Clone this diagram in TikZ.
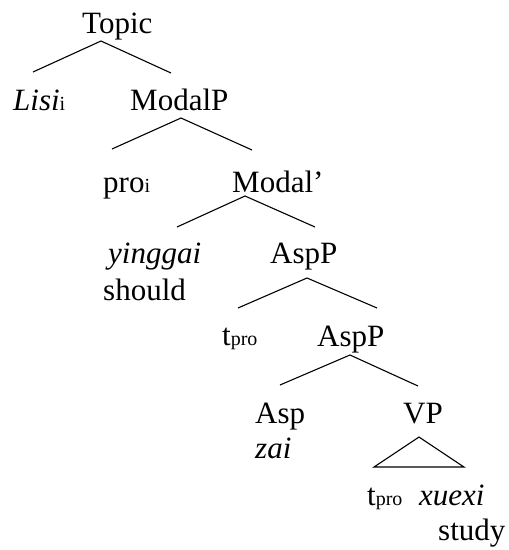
\documentclass[tikz,border=0pt]{standalone}
\usepackage{fontspec}
\setmainfont{Liberation Serif}
\newcommand{\subtx}[1]{{\fontsize{20}{24}\selectfont #1}}
\tikzset{
  lbl/.style={anchor=base west, inner sep=0pt, font=\fontsize{31}{36}\selectfont},
  branch/.style={line width=1.1pt, line join=miter}
}
\begin{document}
\begin{tikzpicture}[x=1pt,y=-1pt]
\useasboundingbox (0,0) rectangle (509,550);
% labels
\node[lbl] (topic) at (82,33) {Topic};
\node[lbl] (lisi) at (13,110) {\textit{Lisi}\subtx{i}};
\node[lbl] (modalp) at (130,110) {ModalP};
\node[lbl] (pro) at (103,192) {pro\subtx{i}};
\node[lbl] (modalbar) at (232,192) {Modal’};
\node[lbl] (yinggai) at (108,263) {\textit{yinggai}};
\node[lbl] (should) at (103,300) {should};
\node[lbl] (aspp) at (270,263) {AspP};
\node[lbl] (tpro) at (222,345) {t\subtx{pro}};
\node[lbl] (aspptwo) at (317,346) {AspP};
\node[lbl] (asp) at (255,423) {Asp};
\node[lbl] (zai) at (255,458) {\textit{zai}};
\node[lbl] (vp) at (403,423) {VP};
\node[lbl] (tprotwo) at (367,505) {t\subtx{pro}};
\node[lbl] (xuexi) at (419,505) {\textit{xuexi}};
\node[lbl] (study) at (438,540) {study};
% branch points
\coordinate (topic-a) at (101,41);
\coordinate (topic-l) at (33,72);
\coordinate (topic-r) at (171,73);
\coordinate (modalp-a) at (181,118);
\coordinate (modalp-l) at (112,149);
\coordinate (modalp-r) at (252,150);
\coordinate (modalbar-a) at (245,196);
\coordinate (modalbar-l) at (177,227);
\coordinate (modalbar-r) at (315,227);
\coordinate (aspp-a) at (307,278);
\coordinate (aspp-l) at (238,308);
\coordinate (aspp-r) at (377,308);
\coordinate (aspptwo-a) at (350,355);
\coordinate (aspptwo-l) at (280,385);
\coordinate (aspptwo-r) at (418,386);
\coordinate (vp-a) at (419,437);
\coordinate (vp-l) at (374,467);
\coordinate (vp-r) at (464,467);
% branches
\draw[branch] (topic-l) -- (topic-a) -- (topic-r);
\draw[branch] (modalp-l) -- (modalp-a) -- (modalp-r);
\draw[branch] (modalbar-l) -- (modalbar-a) -- (modalbar-r);
\draw[branch] (aspp-l) -- (aspp-a) -- (aspp-r);
\draw[branch] (aspptwo-l) -- (aspptwo-a) -- (aspptwo-r);
\draw[branch] (vp-l) -- (vp-a) -- (vp-r) -- cycle;
\end{tikzpicture}
\end{document}
